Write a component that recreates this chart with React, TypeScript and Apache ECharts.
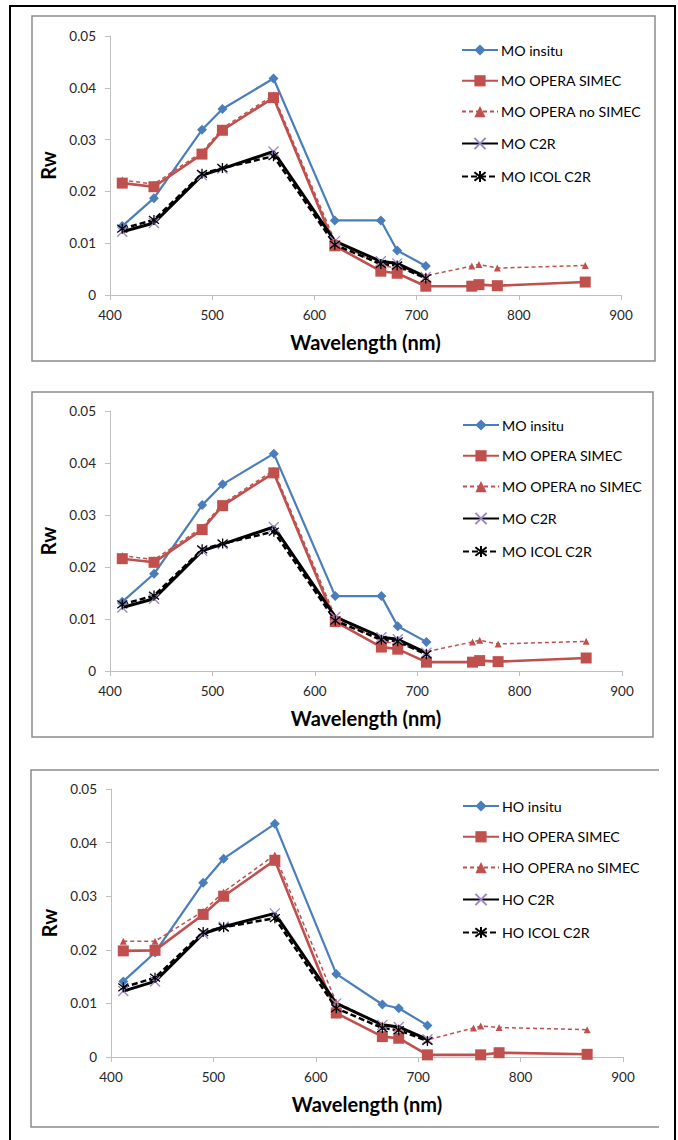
import React, { useEffect, useRef } from "react";
import * as echarts from "echarts";

// Wavelengths (nm)
const wlAll = [412, 443, 490, 510, 560, 620, 665, 681, 709, 754, 761, 779, 865];
const wlVis = [412, 443, 490, 510, 560, 620, 665, 681, 709];
const wlHoSimec = [412, 443, 490, 510, 560, 620, 665, 681, 709, 761, 779, 865];

// MO panels (top and middle)
const moInsitu = [0.0133, 0.0187, 0.0319, 0.0359, 0.0418, 0.0144, 0.0144, 0.0086, 0.0056];
const moSimec = [0.0216, 0.0209, 0.0272, 0.0318, 0.0381, 0.0095, 0.0046, 0.0042, 0.0017, 0.0017, 0.002, 0.0018, 0.0025];
const moNoSimec = [0.0222, 0.0214, 0.0276, 0.0322, 0.0386, 0.0104, 0.0057, 0.0052, 0.0037, 0.0056, 0.0059, 0.0052, 0.0057];
const moC2R = [0.0122, 0.0139, 0.0231, 0.0244, 0.0277, 0.0104, 0.0065, 0.0061, 0.0035];
const moIcol = [0.0128, 0.0145, 0.0234, 0.0245, 0.0268, 0.0097, 0.006, 0.0057, 0.0032];

// HO panel (bottom)
const hoInsitu = [0.0141, 0.0195, 0.0325, 0.037, 0.0435, 0.0155, 0.0098, 0.0091, 0.0059];
const hoSimec = [0.0198, 0.0199, 0.0266, 0.03, 0.0367, 0.0082, 0.0038, 0.0035, 0.0004, 0.0004, 0.0008, 0.0005];
const hoNoSimec = [0.0216, 0.0216, 0.0272, 0.0308, 0.0377, 0.0102, 0.006, 0.0055, 0.0032, 0.0054, 0.0058, 0.0055, 0.0051];
const hoC2R = [0.0123, 0.0141, 0.023, 0.0243, 0.0268, 0.01, 0.006, 0.0056, 0.0033];
const hoIcol = [0.013, 0.0148, 0.0233, 0.0242, 0.0259, 0.0091, 0.0054, 0.005, 0.003];

const xTicks = { min: 400, max: 900, interval: 100 };
const yTicks = { min: 0, max: 0.05, interval: 0.01 };

const FONT = "Lato";
const BLUE = "#4a7ebb";
const RED = "#c0504d";
const PURPLE = "#9d86c8";

const X_SYM = "path://M0,0L10,10M10,0L0,10";
const STAR_SYM = "path://M0,0L10,10M10,0L0,10M5,-1.5L5,11.5";

const pairs = (xs: number[], ys: number[]) => ys.map((y, i) => [xs[i], y]);

function panelSeries(idx: number, prefix: string, d: {
  insitu: number[]; simec: number[]; simecX: number[]; noSimec: number[]; c2r: number[]; icol: number[];
}) {
  const common = { type: "line", xAxisIndex: idx, yAxisIndex: idx, showAllSymbol: true, emphasis: { disabled: true } };
  return [
    {
      ...common,
      name: prefix + " insitu",
      data: pairs(wlVis, d.insitu),
      symbol: "diamond",
      symbolSize: 10,
      itemStyle: { color: BLUE },
      lineStyle: { color: BLUE, width: 2.2 },
    },
    {
      ...common,
      name: prefix + " OPERA SIMEC",
      data: pairs(d.simecX, d.simec),
      symbol: "rect",
      symbolSize: 11,
      itemStyle: { color: RED },
      lineStyle: { color: RED, width: 2.6 },
    },
    {
      ...common,
      name: prefix + " OPERA no SIMEC",
      data: pairs(wlAll, d.noSimec),
      symbol: "triangle",
      symbolSize: 7,
      itemStyle: { color: RED },
      lineStyle: { color: RED, width: 1.5, type: [4, 3] },
    },
    {
      ...common,
      name: prefix + " C2R",
      data: pairs(wlVis, d.c2r),
      symbol: X_SYM,
      symbolSize: 10,
      itemStyle: { color: "none", borderColor: PURPLE, borderWidth: 1.3 },
      lineStyle: { color: "#000", width: 3 },
    },
    {
      ...common,
      name: prefix + " ICOL C2R",
      data: pairs(wlVis, d.icol),
      symbol: STAR_SYM,
      symbolSize: 10,
      itemStyle: { color: "none", borderColor: "#000", borderWidth: 1.3 },
      lineStyle: { color: "#000", width: 2.5, type: [6, 3] },
    },
  ];
}

const grids = [
  { left: 110, top: 36, width: 511, height: 259 },
  { left: 110, top: 411, width: 512, height: 260 },
  { left: 111, top: 789, width: 512, height: 268 },
];

const legendPos = [
  { left: 461, top: 43 },
  { left: 462, top: 418 },
  { left: 462, top: 799 },
];

export default function App() {
  const ref = useRef<HTMLDivElement>(null);
  useEffect(() => {
    document.body.style.margin = "0";
    const chart = echarts.init(ref.current!, null, { renderer: "svg" });
    const moData = { insitu: moInsitu, simec: moSimec, simecX: wlAll, noSimec: moNoSimec, c2r: moC2R, icol: moIcol };
    const hoData = { insitu: hoInsitu, simec: hoSimec, simecX: wlHoSimec, noSimec: hoNoSimec, c2r: hoC2R, icol: hoIcol };
    const prefixes = ["MO", "MO", "HO"];
    const series = [
      ...panelSeries(0, "MO", moData),
      ...panelSeries(1, "MO", moData),
      ...panelSeries(2, "HO", hoData),
    ];
    const axisLine = { show: true, lineStyle: { color: "#bfbfbf", width: 1 } };
    const axisTick = { show: true, length: 5, lineStyle: { color: "#bfbfbf" } };
    const labelStyle = { color: "#262626", fontSize: 13.5, fontFamily: FONT };
    const option: any = {
      animation: false,
      textStyle: { fontFamily: FONT },
      grid: grids,
      xAxis: grids.map((_, i) => ({
        type: "value",
        gridIndex: i,
        ...xTicks,
        name: "Wavelength (nm)",
        nameLocation: "middle",
        nameGap: 37,
        nameTextStyle: { fontSize: 20, fontWeight: "bold", color: "#000", fontFamily: FONT },
        axisLine,
        axisTick,
        splitLine: { show: false },
        axisLabel: { ...labelStyle, margin: 13 },
      })),
      yAxis: grids.map((_, i) => ({
        type: "value",
        gridIndex: i,
        ...yTicks,
        name: "Rw",
        nameLocation: "middle",
        nameRotate: 90,
        nameGap: 47,
        nameTextStyle: { fontSize: 20, fontWeight: "bold", color: "#000", fontFamily: FONT },
        axisLine,
        axisTick,
        splitLine: { show: false },
        axisLabel: { ...labelStyle, margin: 14 },
      })),
      legend: legendPos.map((p, i) => ({
        ...p,
        orient: "vertical",
        padding: 0,
        itemWidth: 36,
        itemHeight: 14,
        itemGap: 16.8,
        selectedMode: false,
        textStyle: { fontSize: 14.2, color: "#000", fontFamily: FONT, padding: [0, 0, 0, -2] },
        data: ["insitu", "OPERA SIMEC", "OPERA no SIMEC", "C2R", "ICOL C2R"].map((s) => prefixes[i] + " " + s),
      })),
      series,
      graphic: [
        { type: "rect", shape: { x: 10, y: 6, width: 665, height: 1145 }, style: { fill: "none", stroke: "#000", lineWidth: 2 }, silent: true },
        { type: "rect", shape: { x: 32, y: 16, width: 623, height: 345 }, style: { fill: "none", stroke: "#8c8c8c", lineWidth: 1.5 }, silent: true },
        { type: "rect", shape: { x: 32, y: 392, width: 621, height: 345 }, style: { fill: "none", stroke: "#8c8c8c", lineWidth: 1.5 }, silent: true },
        { type: "polyline", shape: { points: [[659, 770], [31, 770], [31, 1127], [659, 1127]] }, style: { fill: "none", stroke: "#8c8c8c", lineWidth: 1.5 }, silent: true },
      ],
    };
    chart.setOption(option);
    return () => chart.dispose();
  }, []);
  return <div ref={ref} style={{ width: 678, height: 1140, background: "#fff" }} />;
}
